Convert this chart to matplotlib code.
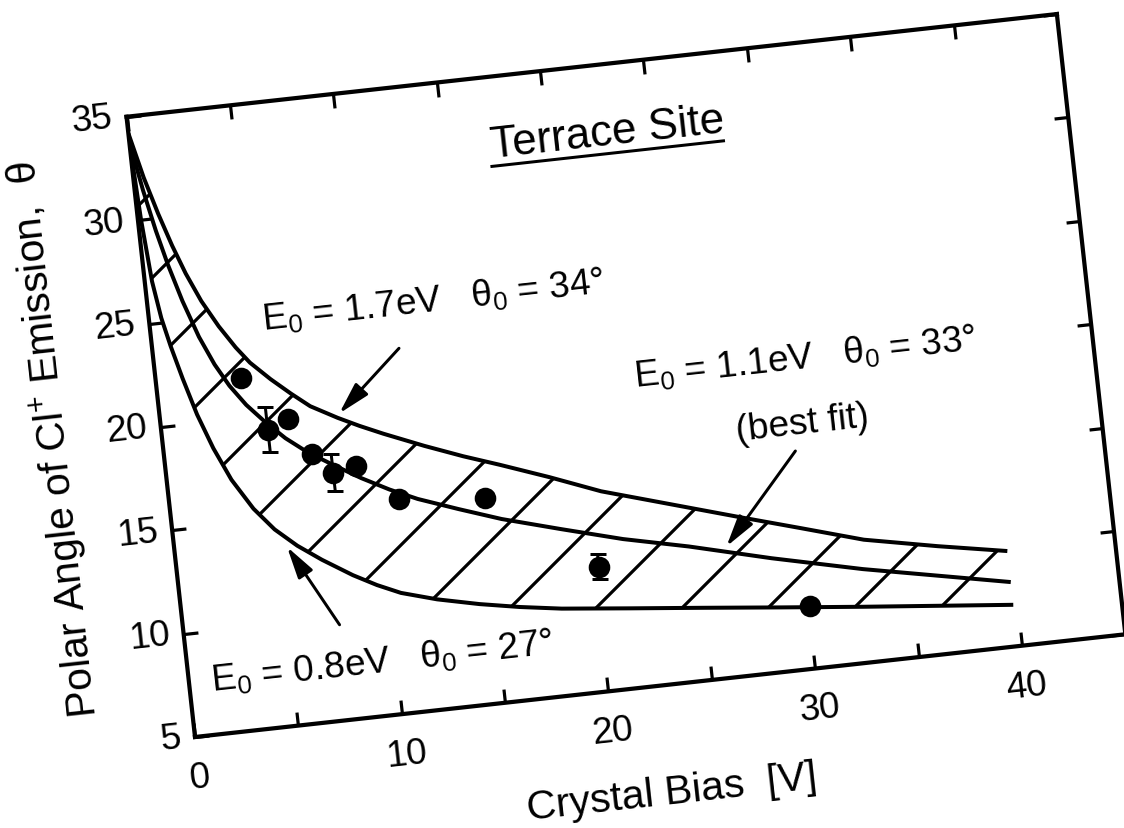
"""
Terrace-site Cl+ emission angle vs crystal bias (scanned figure, slightly tilted).
Output: out.png (1124 x 828)
"""

import numpy as np
import matplotlib
import matplotlib.pyplot as plt
from matplotlib.transforms import Affine2D
from mpl_toolkits.axisartist import floating_axes
from mpl_toolkits.axisartist.grid_finder import FixedLocator, DictFormatter

matplotlib.use("Agg")

DPI = 258          # hatch spacing of "/" is dpi/6 px -> ~43 px like the scan
W_PX, H_PX = 1124, 828


def pt(px: float) -> float:
    """pixel size -> points at this dpi"""
    return px * 72 / DPI


# ──────────────────────────────────────────────────────────────
# data
# ──────────────────────────────────────────────────────────────
X_MIN, X_MAX, Y_MIN, Y_MAX = 0, 45, 5, 35
X_TICKS = [0, 5, 10, 15, 20, 25, 30, 35, 40]
X_TICK_LABELS = {0: "0", 10: "10", 20: "20", 30: "30", 40: "40"}
Y_TICKS = [5, 10, 15, 20, 25, 30, 35]
Y_TICK_LABELS = {v: str(v) for v in Y_TICKS}

# E0 = 1.7 eV, theta0 = 34 deg
UPPER_X = [0.0, 0.5, 1.0, 1.5, 2.0, 2.6, 3.3, 4.0, 4.6, 5.5, 6.4, 7.25, 8.5, 9.5,
           10.6, 12.5, 14.3, 16.0, 18.3, 20.7, 24.0, 27.3, 30.0, 33.0, 36.5, 39.8]
UPPER_Y = [34.2, 32.0, 30.2, 28.6, 27.2, 25.8, 24.5, 23.4, 22.6, 21.7, 20.9, 20.2, 19.5, 19.0,
           18.5, 17.7, 17.0, 16.4, 15.55, 14.6, 13.6, 12.6, 11.8, 10.9, 10.2, 9.6]

# E0 = 1.1 eV, theta0 = 33 deg (best fit)
MID_X = [0.0, 0.4, 0.8, 1.2, 1.7, 2.3, 2.9, 3.5, 4.2, 5.0, 5.9, 6.9, 8.0, 9.3,
         10.6, 11.9, 13.8, 15.8, 18.6, 21.5, 24.6, 28.5, 32.8, 36.3, 39.8]
MID_Y = [33.8, 31.4, 29.4, 27.7, 25.9, 24.1, 22.7, 21.6, 20.6, 19.7, 18.8, 18.0, 17.3, 16.5,
         15.8, 15.2, 14.5, 13.8, 13.0, 12.2, 11.5, 10.5, 9.5, 8.8, 8.1]

# E0 = 0.8 eV, theta0 = 27 deg
LOWER_X = [0.0, 0.15, 0.35, 0.6, 0.9, 1.3, 1.8, 2.4, 3.1, 4.0, 4.9, 5.9, 7.0, 8.4,
           9.5, 10.6, 12.3, 14.3, 16.2, 18.2, 21.5, 24.9, 28.7, 32.6, 36.2, 39.8]
LOWER_Y = [33.8, 30.0, 27.0, 25.2, 23.8, 22.2, 20.4, 18.7, 17.1, 15.6, 14.5, 13.6, 12.8, 11.9,
           11.3, 10.8, 10.3, 9.85, 9.5, 9.2, 8.85, 8.5, 8.1, 7.7, 7.35, 7.0]

# measured points
PTS_X = [4.1, 5.1, 6.1, 7.1, 8.0, 9.1, 11.0, 15.1, 20.2, 30.1]
PTS_Y = [21.9, 19.3, 19.7, 17.9, 16.9, 17.1, 15.3, 14.9, 11.0, 8.0]
ERR_X = [5.1, 8.0, 20.2]
ERR_Y = [19.3, 16.9, 11.0]
ERR = [1.1, 0.9, 0.6]

LABEL_UPPER = "E$_0$ = 1.7eV   θ$_0$ = 34°"
LABEL_MID = "E$_0$ = 1.1eV   θ$_0$ = 33°"
LABEL_LOWER = "E$_0$ = 0.8eV   θ$_0$ = 27°"

# ──────────────────────────────────────────────────────────────
# style
# ──────────────────────────────────────────────────────────────
plt.rcParams["font.family"] = ["Liberation Sans", "DejaVu Sans"]
plt.rcParams["mathtext.fontset"] = "custom"
plt.rcParams["mathtext.rm"] = "Liberation Sans"
plt.rcParams["mathtext.it"] = "Liberation Sans:italic"
plt.rcParams["hatch.linewidth"] = pt(3.2)

TILT = 6.3        # scan rotation, degrees
SCALE = 20.8      # px per data unit (both axes)
ORIGIN = (195, 737)  # pixel of (x=0, y=5)
PAD = 1.02        # FloatingAxes expands its limits by 2 %

th = np.radians(TILT)
box_w = SCALE * ((X_MAX - X_MIN) * np.cos(th) + (Y_MAX - Y_MIN) * np.sin(th))
box_h = SCALE * ((X_MAX - X_MIN) * np.sin(th) + (Y_MAX - Y_MIN) * np.cos(th))
left_px = ORIGIN[0] - SCALE * (Y_MAX - Y_MIN) * np.sin(th) - (PAD - 1) / 2 * box_w
bottom_px = H_PX - ORIGIN[1] - (PAD - 1) / 2 * box_h
rect = [left_px / W_PX, bottom_px / H_PX, PAD * box_w / W_PX, PAD * box_h / H_PX]

fig = plt.figure(figsize=(W_PX / DPI, H_PX / DPI), dpi=DPI)

tr = Affine2D().rotate_deg(TILT)
grid_helper = floating_axes.GridHelperCurveLinear(
    tr,
    extremes=(X_MIN, X_MAX, Y_MIN, Y_MAX),
    grid_locator1=FixedLocator(X_TICKS),
    grid_locator2=FixedLocator(Y_TICKS),
    tick_formatter1=DictFormatter(X_TICK_LABELS),
    tick_formatter2=DictFormatter(Y_TICK_LABELS),
)
ax = fig.add_axes(rect, axes_class=floating_axes.FloatingAxes, grid_helper=grid_helper)

for side in ["left", "right", "top", "bottom"]:
    a = ax.axis[side]
    a.line.set_linewidth(pt(4.2))
    a.major_ticks.set_tick_out(False)
    a.major_ticks.set_ticksize(pt(14))
    a.major_ticks.set_markeredgewidth(pt(3.2))
    a.major_ticklabels.set_fontsize(pt(37))

ax.axis["top"].major_ticklabels.set_visible(False)
ax.axis["right"].major_ticklabels.set_visible(False)
ax.axis["bottom"].major_ticklabels.set_pad(pt(25))
ax.axis["left"].major_ticklabels.set_pad(pt(14))

ax.axis["bottom"].label.set_text("Crystal Bias  [V]")
ax.axis["bottom"].label.set_fontsize(pt(41))
ax.axis["bottom"].label.set_pad(pt(38))
ax.axis["left"].label.set_text("Polar Angle of Cl$^{+}$ Emission,  θ")
ax.axis["left"].label.set_fontsize(pt(41))
ax.axis["left"].label.set_pad(pt(29))

aux = ax.get_aux_axes(tr)
aux.patch = ax.patch
ax.patch.zorder = 0.9

# hatched band between the two extreme curves
aux.fill(
    np.r_[UPPER_X, LOWER_X[::-1]],
    np.r_[UPPER_Y, LOWER_Y[::-1]],
    facecolor="none", edgecolor="black", linewidth=0, hatch="/",
)
for xs, ys in [(UPPER_X, UPPER_Y), (MID_X, MID_Y), (LOWER_X, LOWER_Y)]:
    aux.plot(xs, ys, color="black", lw=pt(4), solid_capstyle="butt")

aux.errorbar(ERR_X, ERR_Y, yerr=ERR, fmt="none", ecolor="black",
             elinewidth=pt(3), capsize=pt(8), capthick=pt(3))
aux.plot(PTS_X, PTS_Y, "o", color="black", ms=pt(18))

# labels
txt = dict(fontsize=pt(37), rotation=TILT, rotation_mode="anchor", color="black")
aux.text(22.9, 31.1, "Terrace Site", ha="center", va="baseline",
         **{**txt, "fontsize": pt(44)})
aux.plot([17.2, 28.4], [30.7, 30.7], color="black", lw=pt(3))
aux.text(5.4, 24.1, LABEL_UPPER, ha="left", va="baseline", **txt)
aux.text(22.9, 19.4, LABEL_MID, ha="left", va="baseline", **txt)
aux.text(30.7, 16.3, "(best fit)", ha="center", va="baseline", **txt)
aux.text(1.05, 7.1, LABEL_LOWER, ha="left", va="baseline", **txt)

arrow = dict(arrowstyle="-|>,head_length=0.75,head_width=0.2", color="black",
             lw=pt(3), shrinkA=0, shrinkB=0)
aux.annotate("", xy=(8.6, 19.7), xytext=(11.8, 22.5), arrowprops=arrow)
aux.annotate("", xy=(26.4, 11.3), xytext=(30.2, 15.5), arrowprops=arrow)
aux.annotate("", xy=(5.4, 13.6), xytext=(7.5, 9.6), arrowprops=arrow)

fig.savefig("out.png", dpi=DPI)
plt.close(fig)
